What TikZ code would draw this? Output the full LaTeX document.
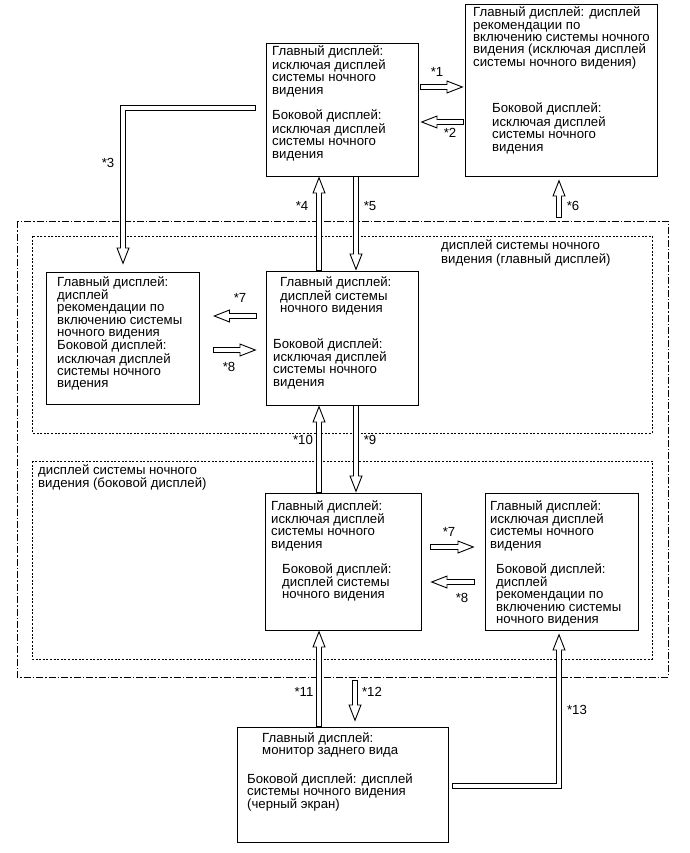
\documentclass[tikz,border=0pt]{standalone}
\usepackage{fontspec}
\setmainfont{Liberation Sans}
\usetikzlibrary{arrows.meta,calc}
\tikzset{
	panel/.style   = {draw, line width=0.9pt, rectangle, inner sep=0pt},
	txt/.style     = {anchor=north west, inner sep=0pt, align=left},
	tag/.style     = {inner sep=0pt},
	zone/.style    = {draw, line width=0.7pt, dash pattern=on 2pt off 1.6pt},
	dashdot/.style = {draw, line width=0.7pt, dash pattern=on 7pt off 2pt on 1.5pt off 2pt},
	fat/.style     = {line width=5.6pt,
		-{Triangle[open, fill=white, length=17pt, width=13pt, line width=0.9pt]},
		postaction={draw=white, line width=3.8pt, arrows=-, shorten <=0.9pt, shorten >=16pt}}
}
\newcommand{\mainD}{Главный дисплей:}
\newcommand{\sideD}{Боковой дисплей:}
\newcommand{\noNV}{исключая дисплей\\системы ночного\\видения}

\begin{document}
\begin{tikzpicture}[x=1pt, y=-1pt, font=\fontsize{13.2}{12.3}\selectfont]
		\useasboundingbox (0,0) rectangle (689,853);
		% zones
		\draw[dashdot] (17,221) rectangle (668,677);
		\draw[zone] (32,236) rectangle (652,433);
		\draw[zone] (32,461) rectangle (652,659);
		\node[txt] (z1) at (441,240) {дисплей системы ночного\\видения (главный дисплей)};
		\node[txt] (z2) at (38,464) {дисплей системы ночного\\видения (боковой дисплей)};
		
		% Drawing the display states
		\draw
		node at (342,109.5)[panel, minimum width=152pt, minimum height=133pt] (b1) {}
		node at (561,90)[panel, minimum width=192pt, minimum height=172pt] (b2) {}
		node at (123,338)[panel, minimum width=153pt, minimum height=132pt] (b3) {}
		node at (342,338)[panel, minimum width=152pt, minimum height=134pt] (b4) {}
		node at (343,561.5)[panel, minimum width=156pt, minimum height=137pt] (b5) {}
		node at (561.5,561.5)[panel, minimum width=153pt, minimum height=137pt] (b6) {}
		node at (342.5,784.5)[panel, minimum width=211pt, minimum height=115pt] (b7) {};
		
		\node[txt] (t1a) at (272,46) {\mainD\\\noNV};
		\node[txt] (t1b) at (272,110) {\sideD\\\noNV};
		\node[txt] (t2a) at (473,7) {Главный дисплей: дисплей\\рекомендации по\\включению системы ночного\\видения (исключая дисплей\\системы ночного видения)};
		\node[txt] (t2b) at (492,103) {\sideD\\\noNV};
		\node[txt] (t3) at (57,276) {\mainD\\дисплей\\рекомендации по\\включению системы\\ночного видения\\\sideD\\\noNV};
		\node[txt] (t4a) at (280,277) {\mainD\\дисплей системы\\ночного видения};
		\node[txt] (t4b) at (273,338) {\sideD\\\noNV};
		\node[txt] (t5a) at (271,500) {\mainD\\\noNV};
		\node[txt] (t5b) at (282,563) {\sideD\\дисплей системы\\ночного видения};
		\node[txt] (t6a) at (490,500) {\mainD\\\noNV};
		\node[txt] (t6b) at (496,563) {\sideD\\дисплей\\рекомендации по\\включению системы\\ночного видения};
		\node[txt] (t7a) at (262,732) {\mainD\\монитор заднего вида};
		\node[txt] (t7b) at (247,773) {Боковой дисплей: дисплей\\системы ночного видения\\(черный экран)};
		
		% transitions
		\coordinate (c6) at (559,218);
		\coordinate (c12) at (355,680);
		\draw[fat] ($(b1.east |- 0,87)+(2,0)$) -- ($(b2.west |- 0,87)+(-1,0)$);
		\draw[fat] ($(b2.west |- 0,122)+(-1,0)$) -- ($(b1.east |- 0,122)+(2,0)$);
		\draw[fat] ($(b1.west |- 0,108)+(-10,0)$) -| ($(b3.north)+(0,-7)$);
		\draw[fat] (b4.north -| 319,0) -- (b1.south -| 319,0);
		\draw[fat] (b1.south -| 356,0) -- (b4.north -| 356,0);
		\draw[fat] (c6) -- ($(b2.south -| c6)+(0,3)$);
		\draw[fat] ($(b4.west |- 0,316)+(-9,0)$) -- ($(b3.east |- 0,316)+(13,0)$);
		\draw[fat] ($(b3.east |- 0,350)+(13,0)$) -- ($(b4.west |- 0,350)+(-9,0)$);
		\draw[fat] (b4.south -| 356,0) -- (b5.north -| 356,0);
		\draw[fat] (b5.north -| 319,0) -- (b4.south -| 319,0);
		\draw[fat] ($(b5.east |- 0,547)+(9,0)$) -- ($(b6.west |- 0,547)+(-10,0)$);
		\draw[fat] ($(b6.west |- 0,582)+(-10,0)$) -- ($(b5.east |- 0,582)+(9,0)$);
		\draw[fat] (b7.north -| 319,0) -- (b5.south -| 319,0);
		\draw[fat] (c12) -- ($(b7.north -| c12)+(0,-5)$);
		\draw[fat] ($(b7.east |- 0,786)+(4,0)$) -| ($(b6.south -| 559,0)+(0,3)$);
		
		\node[tag] (l1) at (437,72) {*1};
		\node[tag] (l2) at (450,133) {*2};
		\node[tag] (l3) at (108,163) {*3};
		\node[tag] (l4) at (302,206) {*4};
		\node[tag] (l5) at (370,206) {*5};
		\node[tag] (l6) at (573,206) {*6};
		\node[tag] (l7) at (240,298) {*7};
		\node[tag] (l8) at (229,367) {*8};
		\node[tag] (l10) at (303,440) {*10};
		\node[tag] (l9) at (370,440) {*9};
		\node[tag] (l7b) at (449,532) {*7};
		\node[tag] (l8b) at (462,598) {*8};
		\node[tag] (l11) at (304,692) {*11};
		\node[tag] (l12) at (372,692) {*12};
		\node[tag] (l13) at (577,710) {*13};
		
		\end{tikzpicture}
\end{document}
